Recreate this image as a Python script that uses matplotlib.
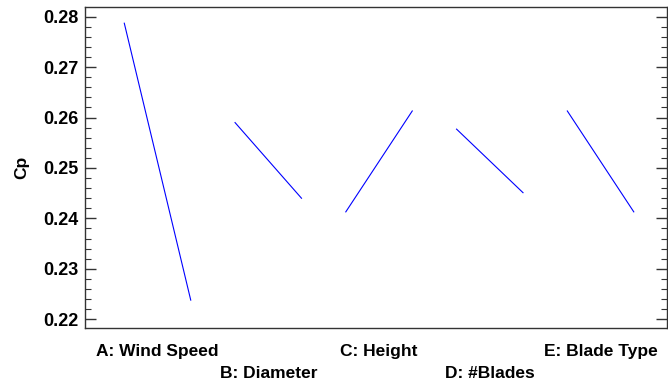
import matplotlib
matplotlib.use("Agg")
import matplotlib.pyplot as plt
from matplotlib.ticker import MultipleLocator
import matplotlib.transforms as mtransforms

plt.rcParams["font.family"] = ["Liberation Sans", "DejaVu Sans"]

# main effect of each factor on Cp: value at low level, value at high level
factors = ["A: Wind Speed", "B: Diameter", "C: Height", "D: #Blades", "E: Blade Type"]
cp_low = [0.2787, 0.2590, 0.2413, 0.2577, 0.2613]
cp_high = [0.2238, 0.2440, 0.2613, 0.2451, 0.2413]

fig = plt.figure(figsize=(6.68, 3.85), dpi=100)
ax = fig.add_axes([0.1272, 0.148, 0.8713, 0.833])

half = 0.3
for i, (lo, hi) in enumerate(zip(cp_low, cp_high)):
    ax.plot([i - half, i + half], [lo, hi], color="#0000ff", linewidth=0.8)

ax.set_xlim(-0.655, 4.60)
ax.set_ylim(0.21827, 0.28185)
ax.yaxis.set_major_locator(MultipleLocator(0.01))
ax.yaxis.set_minor_locator(MultipleLocator(0.002))
ax.yaxis.set_major_formatter(plt.FuncFormatter(lambda v, p: f"{v:.2f}"))
ax.set_xticks([])
ax.tick_params(axis="y", which="both", direction="in", left=True, right=True,
               colors="#333333", labelcolor="black")
ax.tick_params(axis="y", which="major", length=8, width=1.0, labelsize=13, pad=5)
ax.tick_params(axis="y", which="minor", length=4, width=0.8)
for lbl in ax.get_yticklabels():
    lbl.set_fontweight("bold")
for sp in ax.spines.values():
    sp.set_color("#333333")
    sp.set_linewidth(1.0)

# factor names sit under their segment, alternating between two rows
trans = mtransforms.blended_transform_factory(ax.transData, ax.transAxes)
for i, name in enumerate(factors):
    y = -0.073 if i % 2 == 0 else -0.143
    ax.text(i, y, name, transform=trans, ha="center", va="center",
            fontsize=12.5, fontweight="bold")

fig.text(22 / 668, 1 - 167 / 385, "Cp", rotation=90, ha="center", va="center",
         fontsize=12.5, fontweight="bold")

fig.savefig("out.png", dpi=100)
